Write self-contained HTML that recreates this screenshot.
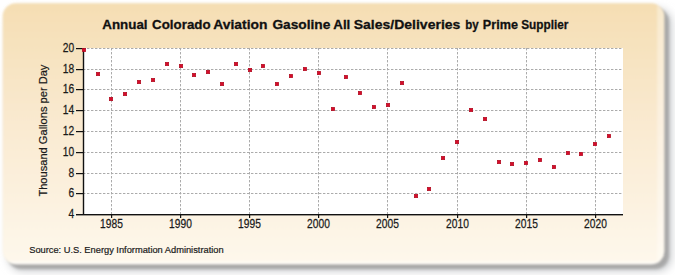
<!DOCTYPE html>
<html><head><meta charset="utf-8">
<style>
html,body{margin:0;padding:0;background:#fff;width:675px;height:275px;overflow:hidden}
svg{display:block}
text{font-family:"Liberation Sans",sans-serif}
</style></head><body>
<svg width="675" height="275" viewBox="0 0 675 275">
<defs>
<linearGradient id="bg" x1="0" y1="0" x2="0" y2="1">
<stop offset="0" stop-color="#F5DEB3"/>
<stop offset="0.4" stop-color="#F9E8CD"/>
<stop offset="1" stop-color="#FEF8EC"/>
</linearGradient>
<filter id="sh" x="-10%" y="-10%" width="120%" height="130%">
<feGaussianBlur stdDeviation="1.6"/>
</filter>
<filter id="sh2" x="-10%" y="-10%" width="120%" height="130%">
<feGaussianBlur stdDeviation="4"/>
</filter>
<filter id="soft" x="-5%" y="-5%" width="110%" height="110%">
<feGaussianBlur stdDeviation="0.9"/>
</filter>
<clipPath id="pc"><rect x="2.7" y="3.2" width="661.6" height="261" rx="13"/></clipPath>
</defs>
<rect x="8.5" y="9" width="663" height="262" rx="14" fill="#c8cacd" filter="url(#sh2)"/>
<rect x="7.5" y="8" width="661.5" height="261" rx="14" fill="#a8a8a8" filter="url(#sh)"/>
<g filter="url(#soft)">
<rect x="2.7" y="3.2" width="661.6" height="261" rx="13" fill="url(#bg)"/>
<g clip-path="url(#pc)">
<rect x="657.2" y="0" width="10" height="270" fill="#fff" fill-opacity="0.35"/>
<rect x="0" y="261.5" width="670" height="5" fill="#fff" fill-opacity="0.6"/>
</g>
</g>

<rect x="84" y="48" width="539" height="166" fill="#fff"/>
<line x1="83" y1="193.5" x2="623" y2="193.5" stroke="#ababab" stroke-width="1" stroke-dasharray="2.4,1.6"/>
<line x1="83" y1="173.5" x2="623" y2="173.5" stroke="#ababab" stroke-width="1" stroke-dasharray="2.4,1.6"/>
<line x1="83" y1="152.5" x2="623" y2="152.5" stroke="#ababab" stroke-width="1" stroke-dasharray="2.4,1.6"/>
<line x1="83" y1="131.5" x2="623" y2="131.5" stroke="#ababab" stroke-width="1" stroke-dasharray="2.4,1.6"/>
<line x1="83" y1="110.5" x2="623" y2="110.5" stroke="#ababab" stroke-width="1" stroke-dasharray="2.4,1.6"/>
<line x1="83" y1="89.5" x2="623" y2="89.5" stroke="#ababab" stroke-width="1" stroke-dasharray="2.4,1.6"/>
<line x1="83" y1="69.5" x2="623" y2="69.5" stroke="#ababab" stroke-width="1" stroke-dasharray="2.4,1.6"/>
<line x1="83" y1="48.5" x2="623" y2="48.5" stroke="#ababab" stroke-width="1" stroke-dasharray="2.4,1.6"/>
<line x1="111.5" y1="48" x2="111.5" y2="214" stroke="#ababab" stroke-width="1" stroke-dasharray="2.4,1.6"/>
<line x1="180.5" y1="48" x2="180.5" y2="214" stroke="#ababab" stroke-width="1" stroke-dasharray="2.4,1.6"/>
<line x1="249.5" y1="48" x2="249.5" y2="214" stroke="#ababab" stroke-width="1" stroke-dasharray="2.4,1.6"/>
<line x1="318.5" y1="48" x2="318.5" y2="214" stroke="#ababab" stroke-width="1" stroke-dasharray="2.4,1.6"/>
<line x1="387.5" y1="48" x2="387.5" y2="214" stroke="#ababab" stroke-width="1" stroke-dasharray="2.4,1.6"/>
<line x1="457.5" y1="48" x2="457.5" y2="214" stroke="#ababab" stroke-width="1" stroke-dasharray="2.4,1.6"/>
<line x1="526.5" y1="48" x2="526.5" y2="214" stroke="#ababab" stroke-width="1" stroke-dasharray="2.4,1.6"/>
<line x1="595.5" y1="48" x2="595.5" y2="214" stroke="#ababab" stroke-width="1" stroke-dasharray="2.4,1.6"/>
<rect x="82.8" y="48" width="1.4" height="167" fill="#111"/>
<rect x="76" y="214" width="547" height="1.4" fill="#111"/>
<rect x="76" y="193" width="7" height="1.2" fill="#111"/>
<rect x="76" y="173" width="7" height="1.2" fill="#111"/>
<rect x="76" y="152" width="7" height="1.2" fill="#111"/>
<rect x="76" y="131" width="7" height="1.2" fill="#111"/>
<rect x="76" y="110" width="7" height="1.2" fill="#111"/>
<rect x="76" y="89" width="7" height="1.2" fill="#111"/>
<rect x="76" y="69" width="7" height="1.2" fill="#111"/>
<rect x="76" y="48" width="7" height="1.2" fill="#111"/>
<text transform="translate(74.2,217.75) scale(0.84,1)" font-size="12.2" stroke="#1a1a1a" stroke-width="0.25" text-anchor="end" fill="#1a1a1a">4</text>
<text transform="translate(74.2,196.75) scale(0.84,1)" font-size="12.2" stroke="#1a1a1a" stroke-width="0.25" text-anchor="end" fill="#1a1a1a">6</text>
<text transform="translate(74.2,176.75) scale(0.84,1)" font-size="12.2" stroke="#1a1a1a" stroke-width="0.25" text-anchor="end" fill="#1a1a1a">8</text>
<text transform="translate(74.2,155.75) scale(0.84,1)" font-size="12.2" stroke="#1a1a1a" stroke-width="0.25" text-anchor="end" fill="#1a1a1a">10</text>
<text transform="translate(74.2,134.75) scale(0.84,1)" font-size="12.2" stroke="#1a1a1a" stroke-width="0.25" text-anchor="end" fill="#1a1a1a">12</text>
<text transform="translate(74.2,113.75) scale(0.84,1)" font-size="12.2" stroke="#1a1a1a" stroke-width="0.25" text-anchor="end" fill="#1a1a1a">14</text>
<text transform="translate(74.2,92.75) scale(0.84,1)" font-size="12.2" stroke="#1a1a1a" stroke-width="0.25" text-anchor="end" fill="#1a1a1a">16</text>
<text transform="translate(74.2,72.75) scale(0.84,1)" font-size="12.2" stroke="#1a1a1a" stroke-width="0.25" text-anchor="end" fill="#1a1a1a">18</text>
<text transform="translate(74.2,51.75) scale(0.84,1)" font-size="12.2" stroke="#1a1a1a" stroke-width="0.25" text-anchor="end" fill="#1a1a1a">20</text>
<rect x="111" y="214" width="1.2" height="4" fill="#111"/>
<text transform="translate(111.5,227.5) scale(0.84,1)" font-size="12.2" stroke="#1a1a1a" stroke-width="0.25" text-anchor="middle" fill="#1a1a1a">1985</text>
<rect x="180" y="214" width="1.2" height="4" fill="#111"/>
<text transform="translate(180.5,227.5) scale(0.84,1)" font-size="12.2" stroke="#1a1a1a" stroke-width="0.25" text-anchor="middle" fill="#1a1a1a">1990</text>
<rect x="249" y="214" width="1.2" height="4" fill="#111"/>
<text transform="translate(249.5,227.5) scale(0.84,1)" font-size="12.2" stroke="#1a1a1a" stroke-width="0.25" text-anchor="middle" fill="#1a1a1a">1995</text>
<rect x="318" y="214" width="1.2" height="4" fill="#111"/>
<text transform="translate(318.5,227.5) scale(0.84,1)" font-size="12.2" stroke="#1a1a1a" stroke-width="0.25" text-anchor="middle" fill="#1a1a1a">2000</text>
<rect x="387" y="214" width="1.2" height="4" fill="#111"/>
<text transform="translate(387.5,227.5) scale(0.84,1)" font-size="12.2" stroke="#1a1a1a" stroke-width="0.25" text-anchor="middle" fill="#1a1a1a">2005</text>
<rect x="457" y="214" width="1.2" height="4" fill="#111"/>
<text transform="translate(457.5,227.5) scale(0.84,1)" font-size="12.2" stroke="#1a1a1a" stroke-width="0.25" text-anchor="middle" fill="#1a1a1a">2010</text>
<rect x="526" y="214" width="1.2" height="4" fill="#111"/>
<text transform="translate(526.5,227.5) scale(0.84,1)" font-size="12.2" stroke="#1a1a1a" stroke-width="0.25" text-anchor="middle" fill="#1a1a1a">2015</text>
<rect x="595" y="214" width="1.2" height="4" fill="#111"/>
<text transform="translate(595.5,227.5) scale(0.84,1)" font-size="12.2" stroke="#1a1a1a" stroke-width="0.25" text-anchor="middle" fill="#1a1a1a">2020</text>
<g fill="#D80A2A" stroke="#AE0A1E" stroke-width="0.7">
<rect x="82.35" y="48.35" width="3.3" height="3.3"/>
<rect x="96.35" y="72.35" width="3.3" height="3.3"/>
<rect x="109.35" y="97.35" width="3.3" height="3.3"/>
<rect x="123.35" y="92.35" width="3.3" height="3.3"/>
<rect x="137.35" y="80.35" width="3.3" height="3.3"/>
<rect x="151.35" y="78.35" width="3.3" height="3.3"/>
<rect x="165.35" y="62.35" width="3.3" height="3.3"/>
<rect x="179.35" y="64.35" width="3.3" height="3.3"/>
<rect x="192.35" y="73.35" width="3.3" height="3.3"/>
<rect x="206.35" y="70.35" width="3.3" height="3.3"/>
<rect x="220.35" y="82.35" width="3.3" height="3.3"/>
<rect x="234.35" y="62.35" width="3.3" height="3.3"/>
<rect x="248.35" y="68.35" width="3.3" height="3.3"/>
<rect x="261.35" y="64.35" width="3.3" height="3.3"/>
<rect x="275.35" y="82.35" width="3.3" height="3.3"/>
<rect x="289.35" y="74.35" width="3.3" height="3.3"/>
<rect x="303.35" y="67.35" width="3.3" height="3.3"/>
<rect x="317.35" y="71.35" width="3.3" height="3.3"/>
<rect x="331.35" y="107.35" width="3.3" height="3.3"/>
<rect x="344.35" y="75.35" width="3.3" height="3.3"/>
<rect x="358.35" y="91.35" width="3.3" height="3.3"/>
<rect x="372.35" y="105.35" width="3.3" height="3.3"/>
<rect x="386.35" y="103.35" width="3.3" height="3.3"/>
<rect x="400.35" y="81.35" width="3.3" height="3.3"/>
<rect x="414.35" y="194.35" width="3.3" height="3.3"/>
<rect x="427.35" y="187.35" width="3.3" height="3.3"/>
<rect x="441.35" y="156.35" width="3.3" height="3.3"/>
<rect x="455.35" y="140.35" width="3.3" height="3.3"/>
<rect x="469.35" y="108.35" width="3.3" height="3.3"/>
<rect x="483.35" y="117.35" width="3.3" height="3.3"/>
<rect x="497.35" y="160.35" width="3.3" height="3.3"/>
<rect x="510.35" y="162.35" width="3.3" height="3.3"/>
<rect x="524.35" y="161.35" width="3.3" height="3.3"/>
<rect x="538.35" y="158.35" width="3.3" height="3.3"/>
<rect x="552.35" y="165.35" width="3.3" height="3.3"/>
<rect x="566.35" y="151.35" width="3.3" height="3.3"/>
<rect x="579.35" y="152.35" width="3.3" height="3.3"/>
<rect x="593.35" y="142.35" width="3.3" height="3.3"/>
<rect x="607.35" y="134.35" width="3.3" height="3.3"/>
</g>
<g font-size="13.4" font-weight="bold" fill="#111" stroke="#111" stroke-width="0.3">
<text transform="translate(102.30,29) scale(0.9978,1)">Annual</text>
<text transform="translate(152.10,29) scale(0.9948,1)">Colorado</text>
<text transform="translate(213.30,29) scale(1.0346,1)">Aviation</text>
<text transform="translate(272.40,29) scale(1.0250,1)">Gasoline</text>
<text transform="translate(333.30,29) scale(0.9941,1)">All</text>
<text transform="translate(353.65,29) scale(1.0465,1)">Sales/Deliveries</text>
<text transform="translate(465.34,29) scale(0.8600,1)">by</text>
<text transform="translate(482.86,29) scale(0.9444,1)">Prime</text>
<text transform="translate(521.22,29) scale(0.8811,1)">Supplier</text>
</g>
<text transform="translate(47,130.6) rotate(-90) scale(0.965,1)" font-size="11.5" text-anchor="middle" fill="#1a1a1a" stroke="#1a1a1a" stroke-width="0.2">Thousand Gallons per Day</text>
<text transform="translate(29.2,253) scale(0.967,1)" font-size="9.6" fill="#1a1a1a" stroke="#1a1a1a" stroke-width="0.2">Source: U.S. Energy Information Administration</text>
</svg></body></html>
